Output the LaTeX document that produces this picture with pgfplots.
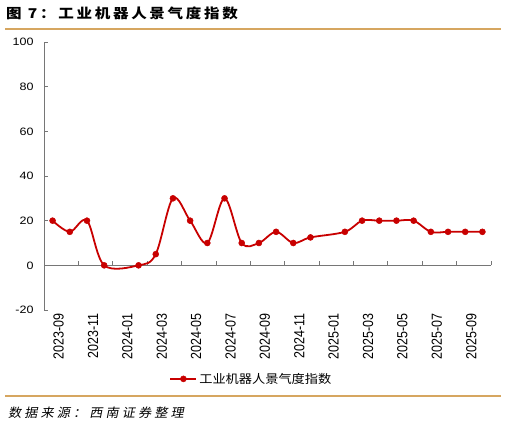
\documentclass[border=0pt]{standalone}
\usepackage{fontspec}
\usepackage{pgfplots}
\usepackage{pgfplotstable}
\pgfplotsset{compat=1.18}
\setmainfont{Liberation Sans}[FakeStretch=1.17]
\newfontfamily\xfont{Liberation Sans}
\newfontfamily\cjk{Noto Sans CJK SC}[FakeStretch=1.1]
\newfontfamily\cjktitle{Noto Sans CJK SC}[FakeStretch=1.15,LetterSpace=20]
\newfontfamily\cjksrc{Noto Sans CJK SC}[FakeStretch=1.05,FakeSlant=0.2,LetterSpace=25]
\definecolor{gold}{RGB}{214,166,96}
\definecolor{axgray}{RGB}{118,118,118}
\definecolor{sred}{RGB}{200,0,0}
\newcommand\xl[1]{\scalebox{1}[1.17]{#1}}

% month index (0 = 2023-09), index value
\pgfplotstableread{
x  y
0  20
1  15
2  20
3  0
5  0
6  5
7  30
8  20
9  10
10 30
11 10
12 10
13 15
14 10
15 12.5
17 15
18 20
19 20
20 20
21 20
22 15
23 15
24 15
25 15
}\robot

\begin{document}
\begin{tikzpicture}
\useasboundingbox (0,0) rectangle (507bp,425bp);
\node[anchor=west, inner sep=0] at (6bp,412bp)
  {\cjktitle\bfseries\fontsize{13.5bp}{15bp}\selectfont 图 7：工业机器人景气度指数};
\draw[gold, line width=1.5bp] (5bp,396bp) -- (501bp,396bp);
\draw[gold, line width=1.5bp] (5bp,29bp) -- (501bp,29bp);
\node[anchor=west, inner sep=0] at (8bp,12bp)
  {\cjksrc\fontsize{12.5bp}{14bp}\selectfont 数据来源：西南证券整理};

\begin{axis}[
  at={(44bp,115bp)}, anchor=south west,
  scale only axis, width=447bp, height=268bp,
  xmin=-0.5, xmax=25.5, ymin=-20, ymax=100,
  axis x line*=bottom, axis y line*=left,
  x axis line style={draw=none},
  y axis line style={axgray, line width=0.8bp},
  ytick={-20,0,...,100},
  ytick style={axgray, line width=0.8bp},
  tick align=inside,
  major tick length=4bp,
  xtick={0,2,...,24},
  xtick style={draw=none},
  xticklabels={\xl{2023-09},\xl{2023-11},\xl{2024-01},\xl{2024-03},\xl{2024-05},
    \xl{2024-07},\xl{2024-09},\xl{2024-11},\xl{2025-01},\xl{2025-03},
    \xl{2025-05},\xl{2025-07},\xl{2025-09}},
  xticklabel style={rotate=90, anchor=east, yshift=-6bp,
    font=\xfont\fontsize{12.5bp}{14bp}\selectfont},
  yticklabel style={font=\fontsize{10.7bp}{12bp}\selectfont, xshift=-7bp},
  /pgf/number format/assume math mode=true,
  legend style={at={(0.464,-0.257)}, anchor=center, draw=none, fill=none,
    font=\cjk\fontsize{12bp}{14bp}\selectfont},
  legend image code/.code={\draw[#1, mark repeat=2, mark phase=2]
    plot coordinates {(0bp,0bp)(13bp,0bp)(26bp,0bp)};},
  clip=false,
]
\draw[axgray, line width=0.8bp] (axis cs:-0.5,0) -- (axis cs:25.5,0);
\pgfplotsinvokeforeach{1.5,3.5,...,25.5}{
  \draw[axgray, line width=0.8bp] (axis cs:#1,0) -- ([yshift=4bp]axis cs:#1,0);
}
\addplot[sred, line width=1.8bp, smooth, tension=0.55, mark=*, mark size=3bp,
  mark options={fill=sred, draw=sred, line width=0.5bp}] table[x=x,y=y]{\robot};
\addlegendentry{工业机器人景气度指数}
\end{axis}
\end{tikzpicture}
\end{document}
